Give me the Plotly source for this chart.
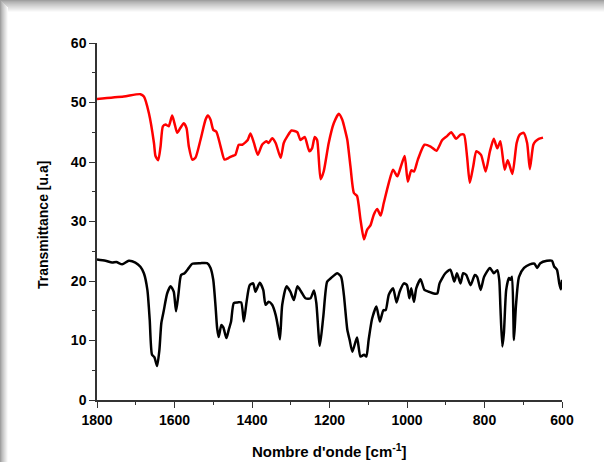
import plotly.graph_objects as go

# Red spectrum (upper)
red_x = [1800, 1731, 1688, 1679, 1666, 1653, 1649, 1642, 1636, 1630, 1623, 1615, 1606, 1600, 1593,
         1585, 1576, 1569, 1563, 1554, 1546, 1533, 1520, 1514, 1507, 1500, 1492, 1481, 1471, 1460,
         1451, 1443, 1434, 1425, 1417, 1411, 1404, 1395, 1385, 1374, 1363, 1357, 1348, 1339, 1326,
         1318, 1309, 1298, 1283, 1275, 1264, 1252, 1245, 1238, 1232, 1223, 1215, 1202, 1189, 1176,
         1167, 1160, 1154, 1146, 1137, 1129, 1120, 1111, 1103, 1094, 1086, 1077, 1068, 1060, 1047,
         1036, 1025, 1017, 1006, 998, 989, 982, 972, 955, 939, 924, 909, 896, 886, 873,
         862, 853, 845, 838, 829, 821, 809, 797, 786, 776, 767, 759, 748, 740, 728,
         717, 709, 699, 690, 683, 674, 668, 660, 649]
red_y = [50.6, 51.0, 51.4, 51.0, 48.2, 43.2, 41.0, 40.3, 42.6, 46.0, 46.3, 46.0, 47.8, 46.5, 44.9,
         45.7, 46.5, 45.7, 42.6, 40.4, 40.7, 43.7, 47.1, 47.8, 47.1, 45.4, 45.1, 42.6, 40.4, 40.7,
         41.0, 41.2, 42.9, 42.9, 43.3, 43.7, 44.8, 43.2, 41.2, 42.9, 43.5, 43.2, 44.0, 43.2, 40.7,
         43.2, 44.3, 45.3, 45.0, 43.7, 44.2, 41.8, 42.3, 44.2, 43.7, 37.1, 38.4, 43.2, 46.5, 48.1,
         47.1, 45.4, 43.7, 39.3, 34.8, 34.3, 30.3, 27.0, 28.6, 29.4, 31.1, 32.1, 31.0, 33.1, 36.5,
         38.7, 37.6, 39.0, 41.0, 36.7, 38.6, 38.4, 40.4, 42.9, 42.6, 41.9, 43.7, 44.4, 45.0, 43.9,
         44.6, 44.6, 40.9, 36.5, 39.3, 41.8, 41.2, 38.4, 41.8, 43.9, 42.3, 43.5, 38.7, 40.3, 38.0,
         43.2, 44.6, 44.9, 43.2, 38.8, 42.9, 43.5, 43.9, 44.1]

# Black spectrum (lower)
black_x = [1800, 1778, 1761, 1750, 1735, 1718, 1701, 1688, 1679, 1670, 1664, 1658, 1652, 1645, 1639,
           1634, 1628, 1619, 1610, 1602, 1596, 1590, 1583, 1574, 1563, 1554, 1533, 1516, 1507, 1500,
           1494, 1490, 1486, 1479, 1474, 1466, 1460, 1454, 1447, 1437, 1428, 1421, 1414, 1406, 1397,
           1391, 1380, 1371, 1365, 1357, 1348, 1339, 1333, 1328, 1322, 1311, 1301, 1292, 1283, 1273,
           1262, 1249, 1240, 1234, 1225, 1216, 1206, 1196, 1180, 1170, 1163, 1154, 1148, 1141, 1129,
           1120, 1111, 1105, 1099, 1090, 1079, 1070, 1061, 1055, 1047, 1036, 1027, 1019, 1008, 1000,
           994, 989, 982, 976, 965, 955, 944, 931, 922, 916, 901, 888, 878, 871, 862,
           855, 847, 836, 825, 819, 810, 801, 786, 776, 767, 762, 759, 754, 750, 744,
           737, 733, 729, 724, 719, 711, 698, 683, 671, 664, 656, 639, 626, 620, 613,
           607, 603, 600]
black_y = [23.6, 23.4, 23.1, 23.2, 22.8, 23.4, 23.1, 22.4, 21.3, 18.5, 13.5, 7.6, 7.2, 5.7, 8.4,
           12.9, 14.9, 17.9, 19.1, 18.2, 14.9, 17.7, 21.0, 21.3, 22.2, 22.9, 23.0, 23.0, 22.2, 20.2,
           15.7, 12.1, 10.6, 12.6, 12.2, 10.4, 11.8, 13.2, 16.3, 16.4, 16.4, 13.2, 16.5, 19.3, 19.6,
           18.2, 19.7, 18.5, 16.0, 16.5, 16.0, 14.3, 12.3, 10.2, 16.0, 19.1, 18.2, 16.8, 19.1, 18.2,
           17.1, 17.1, 18.4, 16.3, 9.1, 14.0, 19.9, 20.5, 21.3, 20.7, 17.7, 11.8, 10.1, 8.1, 10.5,
           7.3, 7.6, 7.3, 10.1, 13.7, 15.7, 13.2, 15.1, 15.1, 17.7, 18.8, 16.4, 18.2, 19.6, 19.3,
           17.1, 18.8, 16.5, 18.8, 20.3, 18.5, 18.2, 17.9, 17.9, 19.6, 21.3, 21.9, 19.9, 21.3, 19.6,
           21.3, 21.0, 19.3, 21.0, 20.7, 18.5, 20.7, 22.2, 21.3, 21.8, 20.2, 15.7, 9.0, 11.2, 18.5,
           20.5, 20.2, 20.7, 10.1, 15.7, 20.7, 22.2, 22.8, 22.9, 22.2, 23.0, 23.4, 23.4, 22.4, 21.9,
           19.6, 18.6, 20.2]

x_ticks = [1800, 1600, 1400, 1200, 1000, 800, 600]
y_ticks = [0, 10, 20, 30, 40, 50, 60]
x_title = "Nombre d'onde [cm<sup>-1</sup>]"
y_title = "Transmittance [u.a]"

FONT = "Liberation Sans, Arial, sans-serif"

fig = go.Figure()
fig.add_trace(go.Scatter(x=black_x, y=black_y, mode="lines",
                         line=dict(color="black", width=2.5, shape="spline", smoothing=0.6),
                         showlegend=False, hoverinfo="skip"))
fig.add_trace(go.Scatter(x=red_x, y=red_y, mode="lines",
                         line=dict(color="#ff0000", width=2.5, shape="spline", smoothing=0.6),
                         showlegend=False, hoverinfo="skip"))

W, H = 604, 462
ML, MR, MT, MB = 97, 42, 43, 62
PW, PH = W - ML - MR, H - MT - MB

def px2paper_x(px):
    return (px - ML) / PW

def px2paper_y(py):
    return (H - MB - py) / PH

shapes = []
# top shadow gradient
n = 12
for i in range(n):
    g = int(160 + (250 - 160) * (i / (n - 1)) ** 0.8)
    shapes.append(dict(type="rect", xref="paper", yref="paper",
                       x0=px2paper_x(0), x1=px2paper_x(W),
                       y0=px2paper_y(i + 1), y1=px2paper_y(i),
                       fillcolor=f"rgb({g},{g},{g})", line=dict(width=0), layer="above"))
# left shadow gradient
m = 8
for i in range(m):
    g = int(160 + (250 - 160) * (i / (m - 1)) ** 0.8)
    shapes.append(dict(type="rect", xref="paper", yref="paper",
                       x0=px2paper_x(i), x1=px2paper_x(i + 1),
                       y0=px2paper_y(H), y1=px2paper_y(i),
                       fillcolor=f"rgb({g},{g},{g})", line=dict(width=0), layer="above"))

annotations = [
    dict(text=x_title, xref="paper", yref="paper", x=px2paper_x(329), y=px2paper_y(450),
         xanchor="center", yanchor="middle", showarrow=False,
         font=dict(size=15, family=FONT, weight="bold", color="black")),
    dict(text=y_title, xref="paper", yref="paper", x=px2paper_x(43), y=px2paper_y(225),
         xanchor="center", yanchor="middle", showarrow=False, textangle=-90,
         font=dict(size=14, family=FONT, weight="bold", color="black")),
]

fig.update_layout(
    width=W, height=H,
    margin=dict(l=ML, r=MR, t=MT, b=MB, autoexpand=False),
    paper_bgcolor="white", plot_bgcolor="white",
    font=dict(family=FONT, color="black"),
    shapes=shapes,
    annotations=annotations,
    hovermode=False,
    xaxis=dict(range=[1800, 600], tickvals=x_ticks, ticks="outside", ticklen=6, tickwidth=1.2,
               tickcolor="#333", showline=True, linecolor="#333", linewidth=1.5,
               showgrid=False, zeroline=False, automargin=False,
               tickfont=dict(size=14, family=FONT, weight="bold"),
               minor=dict(ticks="outside", ticklen=3, dtick=100, tickcolor="#333", tickwidth=1.2)),
    yaxis=dict(range=[0, 60], tickvals=y_ticks, ticks="outside", ticklen=6, tickwidth=1.2,
               tickcolor="#333", showline=True, linecolor="#333", linewidth=1.5,
               showgrid=False, zeroline=False, automargin=False,
               tickfont=dict(size=14, family=FONT, weight="bold"),
               minor=dict(ticks="outside", ticklen=3, dtick=5, tickcolor="#333", tickwidth=1.2)),
)

fig.write_html("out.html", config={"displayModeBar": False},
               post_script="document.body.style.margin='0';")
